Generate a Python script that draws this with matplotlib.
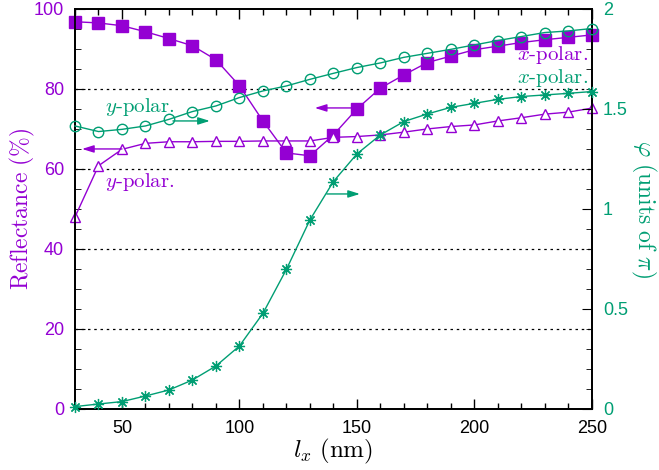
import matplotlib
matplotlib.use("Agg")
import matplotlib.pyplot as plt
from matplotlib.ticker import MultipleLocator

plt.rcParams['mathtext.fontset'] = 'cm'
plt.rcParams['axes.formatter.use_mathtext'] = True

PURPLE = '#9400D3'
GREEN = '#009E73'

lx = [30, 40, 50, 60, 70, 80, 90, 100, 110, 120, 130, 140, 150, 160, 170, 180,
      190, 200, 210, 220, 230, 240, 250]
refl_x = [96.8, 96.5, 95.8, 94.3, 92.6, 90.8, 87.3, 80.8, 72.0, 64.0, 63.3, 68.5,
          75.0, 80.2, 83.5, 86.6, 88.2, 89.8, 90.7, 91.6, 92.3, 92.9, 93.5]
refl_y = [48.0, 60.8, 64.9, 66.4, 66.8, 66.8, 66.9, 66.9, 67.0, 67.0, 67.0, 67.9,
          68.1, 68.5, 69.2, 70.0, 70.6, 71.0, 72.0, 72.8, 73.7, 74.2, 75.2]
phase_y = [1.415, 1.387, 1.398, 1.415, 1.448, 1.487, 1.515, 1.557, 1.590, 1.615,
           1.648, 1.678, 1.707, 1.730, 1.758, 1.778, 1.798, 1.820, 1.842, 1.862,
           1.882, 1.890, 1.902]
phase_x = [0.012, 0.025, 0.037, 0.065, 0.095, 0.145, 0.215, 0.315, 0.478, 0.698,
           0.945, 1.137, 1.275, 1.370, 1.437, 1.475, 1.508, 1.528, 1.548, 1.562,
           1.570, 1.578, 1.587]

fig = plt.figure(figsize=(6.59, 4.70), dpi=100)
ax = fig.add_axes([0.1138, 0.1298, 0.898 - 0.1138, 0.981 - 0.1298])
ax2 = ax.twinx()

for yv in [20, 40, 60, 80]:
    ax.axhline(yv, color='black', lw=0.9, ls=(0, (2, 3)), zorder=0)

ax.plot(lx, refl_x, color=PURPLE, lw=1.0, marker='s', ms=8, mfc=PURPLE, mec=PURPLE,
        zorder=3, clip_on=False)
ax.plot(lx, refl_y, color=PURPLE, lw=1.0, marker='^', ms=6.5, mfc='white', mec=PURPLE,
        mew=1.0, zorder=3, clip_on=False)
ax2.plot(lx, phase_y, color=GREEN, lw=1.0, marker='o', ms=7.5, mfc='none', mec=GREEN,
         mew=1.0, zorder=3, clip_on=False)
ax2.plot(lx, phase_x, color=GREEN, lw=1.0, marker=(8, 2, 0), ms=8, mec=GREEN, mew=0.9,
         zorder=3, clip_on=False)

ax.set_xlim(30, 250)
ax.set_ylim(0, 100)
ax2.set_ylim(0, 2)

ax.xaxis.set_major_locator(MultipleLocator(50))
ax.xaxis.set_minor_locator(MultipleLocator(10))
ax.yaxis.set_major_locator(MultipleLocator(20))
ax.yaxis.set_minor_locator(MultipleLocator(5))
ax2.yaxis.set_major_locator(MultipleLocator(0.5))
ax2.yaxis.set_minor_locator(MultipleLocator(0.1))

tickfont = 'Liberation Sans'
ax.tick_params(axis='x', which='both', direction='in', top=True, labelsize=13, pad=8)
ax.tick_params(axis='x', which='major', length=7, width=1)
ax.tick_params(axis='x', which='minor', length=4, width=1)
ax.tick_params(axis='y', which='both', direction='in', labelsize=13, labelcolor=PURPLE, pad=8)
ax.tick_params(axis='y', which='major', length=7)
ax.tick_params(axis='y', which='minor', length=4)
ax2.tick_params(axis='y', which='both', direction='in', labelsize=13, labelcolor=GREEN, pad=8)
ax2.tick_params(axis='y', which='major', length=7)
ax2.tick_params(axis='y', which='minor', length=4)

ax.set_xticks([50, 100, 150, 200, 250])
ax.set_xticklabels(['50', '100', '150', '200', '250'], fontfamily=tickfont)
ax.set_yticks([0, 20, 40, 60, 80, 100])
ax.set_yticklabels(['0', '20', '40', '60', '80', '100'], fontfamily=tickfont)
ax2.set_yticks([0, 0.5, 1, 1.5, 2])
ax2.set_yticklabels(['0', '0.5', '1', '1.5', '2'], fontfamily=tickfont)

for sp in ax.spines.values():
    sp.set_linewidth(1.3)
for sp in ax2.spines.values():
    sp.set_linewidth(1.3)

fig.text(0.505, 0.040, r'$l_x\ \mathrm{(nm)}$', fontsize=18, ha='center', va='center')
fig.text(0.034, 0.555, r'$\mathrm{Reflectance\ (\%)}$', fontsize=17, color=PURPLE,
         rotation=90, ha='center', va='center')
fig.text(0.976, 0.555, r'$\varphi\ \mathrm{(units\ of\ }\pi\mathrm{)}$', fontsize=17, color=GREEN,
         rotation=-90, ha='center', va='center')

afont = dict(fontfamily='cmr10', fontsize=15)
ax.text(42.8, 75.5, r'$y$-polar.', color=GREEN, ha='left', va='center', **afont)
ax.text(42.8, 56.75, r'$y$-polar.', color=PURPLE, ha='left', va='center', **afont)
ax.text(218, 88.5, r'$x$-polar.', color=PURPLE, ha='left', va='center', **afont)
ax.text(218, 82.75, r'$x$-polar.', color=GREEN, ha='left', va='center', **afont)

astyle = '-|>,head_length=0.7,head_width=0.22'
def arrow(x0, y0, x1, y1, c):
    ax.annotate('', xy=(x1, y1), xytext=(x0, y0),
                arrowprops=dict(arrowstyle=astyle, color=c, lw=1.0, shrinkA=0, shrinkB=0),
                zorder=4)

arrow(71.7, 72.0, 87.4, 72.0, GREEN)
arrow(50.0, 65.0, 33.0, 65.0, PURPLE)
arrow(151.3, 75.25, 132.1, 75.25, PURPLE)
arrow(137.2, 53.75, 151.3, 53.75, GREEN)

fig.savefig('out.png', dpi=100)
